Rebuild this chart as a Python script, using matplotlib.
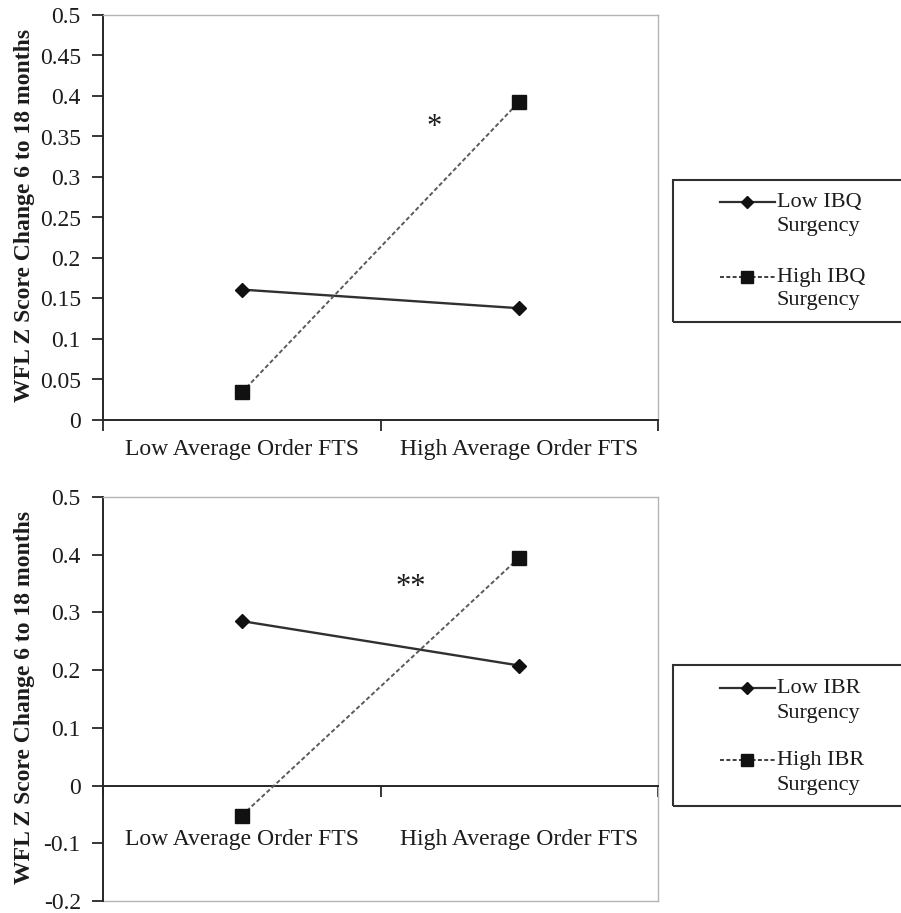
import matplotlib
matplotlib.use("Agg")
import matplotlib.pyplot as plt
from matplotlib.lines import Line2D
from matplotlib.patches import Rectangle

# category axis
categories = ["Low Average Order FTS", "High Average Order FTS"]
cat_pos = [0.5, 1.5]

# top panel (IBQ)
ibq_low = [0.161, 0.138]
ibq_high = [0.034, 0.393]
ibq_ticks = [0, 0.05, 0.1, 0.15, 0.2, 0.25, 0.3, 0.35, 0.4, 0.45, 0.5]
ibq_ticklabels = ["0", "0.05", "0.1", "0.15", "0.2", "0.25", "0.3", "0.35", "0.4", "0.45", "0.5"]
ibq_labels = ["Low IBQ", "High IBQ"]

# bottom panel (IBR)
ibr_low = [0.285, 0.208]
ibr_high = [-0.052, 0.395]
ibr_ticks = [-0.2, -0.1, 0, 0.1, 0.2, 0.3, 0.4, 0.5]
ibr_ticklabels = ["-0.2", "-0.1", "0", "0.1", "0.2", "0.3", "0.4", "0.5"]
ibr_labels = ["Low IBR", "High IBR"]

ylabel = "WFL Z Score Change 6 to 18 months"

plt.rcParams["font.family"] = ["Liberation Serif", "DejaVu Serif"]
TXT = "#1c1c1c"
DARK = "#262626"
LIGHT = "#b4b4b4"

W, H = 901, 913
fig = plt.figure(figsize=(W / 100, H / 100), dpi=100)


def fx(px):
    return px / W


def fy(py):
    return 1 - py / H


def style_axes(ax, ylim, ticks, ticklabels, label_pad):
    ax.set_xlim(0, 2)
    ax.set_ylim(*ylim)
    ax.set_yticks(ticks)
    ax.set_yticklabels(ticklabels)
    ax.set_xticks([0, 1, 2])
    ax.set_xticklabels([])
    ax.set_xticks(cat_pos, minor=True)
    ax.set_xticklabels(categories, minor=True)
    ax.tick_params(axis="x", which="major", direction="out", length=8, width=1.3,
                   color=DARK)
    ax.tick_params(axis="x", which="minor", length=0, pad=label_pad,
                   labelsize=17, labelcolor=TXT)
    ax.tick_params(axis="y", direction="out", length=8, width=1.3, color=DARK,
                   pad=8, labelsize=17, labelcolor=TXT)
    ax.spines["left"].set_color(DARK)
    ax.spines["left"].set_linewidth(1.4)
    for side in ("top", "right"):
        ax.spines[side].set_color(LIGHT)
        ax.spines[side].set_linewidth(1.0)
    ax.set_ylabel(ylabel, fontsize=17, fontweight="bold", color=TXT)
    ax.yaxis.set_label_coords(-0.122, 0.505)


def draw_series(ax, low, high):
    ax.plot(cat_pos, low, color="#303030", lw=1.7, marker="D", ms=7.5,
            mfc="#111111", mec="#111111", zorder=3)
    ax.plot(cat_pos, high, color="#5a5a5a", lw=1.4, ls=(0, (2.2, 1.3)),
            marker="s", ms=9.5, mfc="#111111", mec="#111111", zorder=3)


def draw_legend(box_top, box_bottom, rows, labels):
    fig.patches.append(Rectangle((fx(673), fy(box_bottom)), fx(260),
                                 fy(box_top) - fy(box_bottom),
                                 transform=fig.transFigure, fill=False,
                                 edgecolor="#303030", lw=1.5))
    styles = [dict(ls="-", color="#303030", lw=1.6, marker="D", ms=6.5),
              dict(ls=(0, (2.2, 1.3)), color="#303030", lw=1.3, marker="s", ms=9)]
    for (y1, y2), lab, st in zip(rows, labels, styles):
        fig.add_artist(Line2D([fx(720), fx(747), fx(775)], [fy(y1)] * 3,
                              transform=fig.transFigure, markevery=[1],
                              mfc="#111111", mec="#111111", **st))
        fig.text(fx(777), fy(y1), lab, ha="left", va="center", fontsize=16, color=TXT)
        fig.text(fx(777), fy(y2), "Surgency", ha="left", va="center", fontsize=16,
                 color=TXT)


# top panel
ax1 = fig.add_axes([fx(103), fy(420), fx(658) - fx(103), fy(15) - fy(420)])
style_axes(ax1, (0, 0.5), ibq_ticks, ibq_ticklabels, label_pad=14)
ax1.spines["bottom"].set_color(DARK)
ax1.spines["bottom"].set_linewidth(1.4)
draw_series(ax1, ibq_low, ibq_high)
ax1.text(1.193, 0.361, "*", ha="center", va="center", fontsize=22, color=TXT)
draw_legend(180, 322, [(202, 226), (277, 300)], ibq_labels)

# bottom panel
ax2 = fig.add_axes([fx(103), fy(901), fx(658) - fx(103), fy(497) - fy(901)])
style_axes(ax2, (-0.2, 0.5), ibr_ticks, ibr_ticklabels, label_pad=31)
ax2.spines["bottom"].set_position(("data", 0))
ax2.spines["bottom"].set_color(DARK)
ax2.spines["bottom"].set_linewidth(1.4)
ax2.axhline(-0.2, color=LIGHT, lw=1.0, clip_on=False)
draw_series(ax2, ibr_low, ibr_high)
ax2.text(1.11, 0.343, "**", ha="center", va="center", fontsize=22, color=TXT)
draw_legend(665, 806, [(688, 713), (760, 785)], ibr_labels)

fig.savefig("out.png", dpi=100)
